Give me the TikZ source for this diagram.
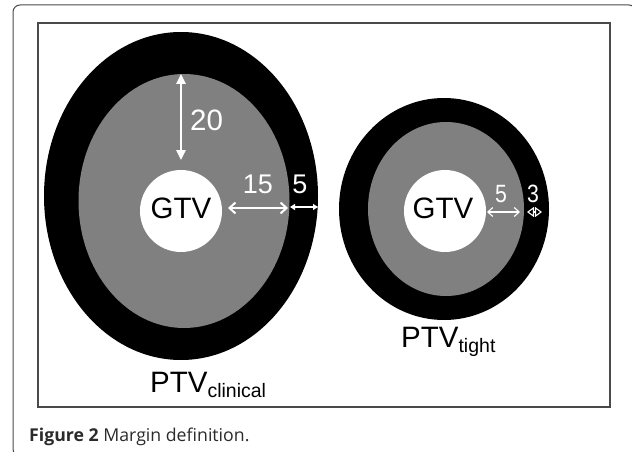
\documentclass[tikz,border=0pt]{standalone}
\usepackage{fontspec}
\setmainfont{Liberation Sans}
\newfontfamily\capfont{Open Sans}
\usetikzlibrary{arrows.meta}
\definecolor{ringgray}{HTML}{808080}
\definecolor{framegray}{HTML}{4A4A4A}
\definecolor{captext}{HTML}{2B2B2B}
\tikzset{
  lbl/.style={inner sep=0pt,anchor=base,text=black},
  wlbl/.style={inner sep=0pt,anchor=base,text=white},
  bigtxt/.style={font=\fontsize{29.5}{29.5}\selectfont},
  midtxt/.style={font=\fontsize{27}{27}\selectfont},
  thintxt/.style={font=\fontsize{25}{25}\selectfont},
  thickarr/.style={draw=white,line width=2.4pt},
  thinarr/.style={draw=white,line width=1.1pt},
}
\begin{document}
\begin{tikzpicture}[x=1pt,y=-1pt]
\path[use as bounding box,fill=white] (0,0) rectangle (632,452);
\begin{scope}
\clip (0,0) rectangle (632,452);
\draw[framegray,line width=1pt,rounded corners=7pt] (13,5) rectangle (636,456);
\end{scope}
\draw[framegray,line width=1.6pt] (38,23) rectangle (610,407);
% left target
\fill[black] (181,196) ellipse [x radius=137,y radius=164];
\fill[ringgray] (184,201) ellipse [x radius=105.5,y radius=127];
\fill[white] (181,211) circle [radius=41];
% right target
\fill[black] (444,209) ellipse [x radius=105,y radius=111];
\fill[ringgray] (446,209) ellipse [x radius=78,y radius=87];
\fill[white] (445,211) circle [radius=41];
% labels
\node[lbl,bigtxt] (gtvL) at (181,218) {GTV};
\node[lbl,bigtxt] (gtvR) at (443,218) {GTV};
\node[wlbl,bigtxt,anchor=base west] (m20) at (190,130) {20};
\node[wlbl,midtxt] (m15) at (258,193) {15};
\node[wlbl,midtxt] (m5L) at (300,193) {5};
\node[wlbl,thintxt,xscale=0.85] (m5R) at (501,202) {5};
\node[wlbl,thintxt,xscale=0.85] (m3R) at (533,202) {3};
\node[lbl,bigtxt,anchor=base west] (ptvC) at (150,392) {PTV\raisebox{-5pt}{\fontsize{19.5}{19.5}\selectfont clinical}};
\node[lbl,bigtxt,anchor=base west] (ptvT) at (401,347) {PTV\raisebox{-5pt}{\fontsize{19.5}{19.5}\selectfont tight}};
% arrow end points
\coordinate (a20t) at (181,74);
\coordinate (a20b) at (181,160);
\coordinate (a15l) at (228,208);
\coordinate (a15r) at (288,208);
\coordinate (a5l) at (290,207);
\coordinate (a5r) at (318,207);
\coordinate (b5l) at (487,212);
\coordinate (b5r) at (520,212);
\coordinate (b3l) at (527,212);
\coordinate (b3r) at (542,212);
\draw[thickarr,{Triangle[length=10pt,width=9pt]}-{Triangle[length=10pt,width=9pt]}] (a20t) -- (a20b);
\draw[thickarr,line width=2pt,{Straight Barb[length=6pt,width=11pt]}-{Straight Barb[length=6pt,width=11pt]}] (a15l) -- (a15r);
\draw[thickarr,line width=1.6pt,{Triangle[length=5pt,width=6pt]}-{Triangle[length=5pt,width=6pt]}] (a5l) -- (a5r);
\draw[thinarr,{Straight Barb[length=5pt,width=9pt]}-{Straight Barb[length=5pt,width=9pt]}] (b5l) -- (b5r);
\draw[thinarr,{Triangle[open,length=7pt,width=10pt]}-{Triangle[open,length=7pt,width=10pt]}] (b3l) -- (b3r);
% caption
\node[inner sep=0pt,anchor=base west,text=captext,font=\capfont\fontsize{17.7}{17.7}\selectfont] (cap) at (29,441) {\textbf{Figure 2} Margin definition.};
\end{tikzpicture}
\end{document}
